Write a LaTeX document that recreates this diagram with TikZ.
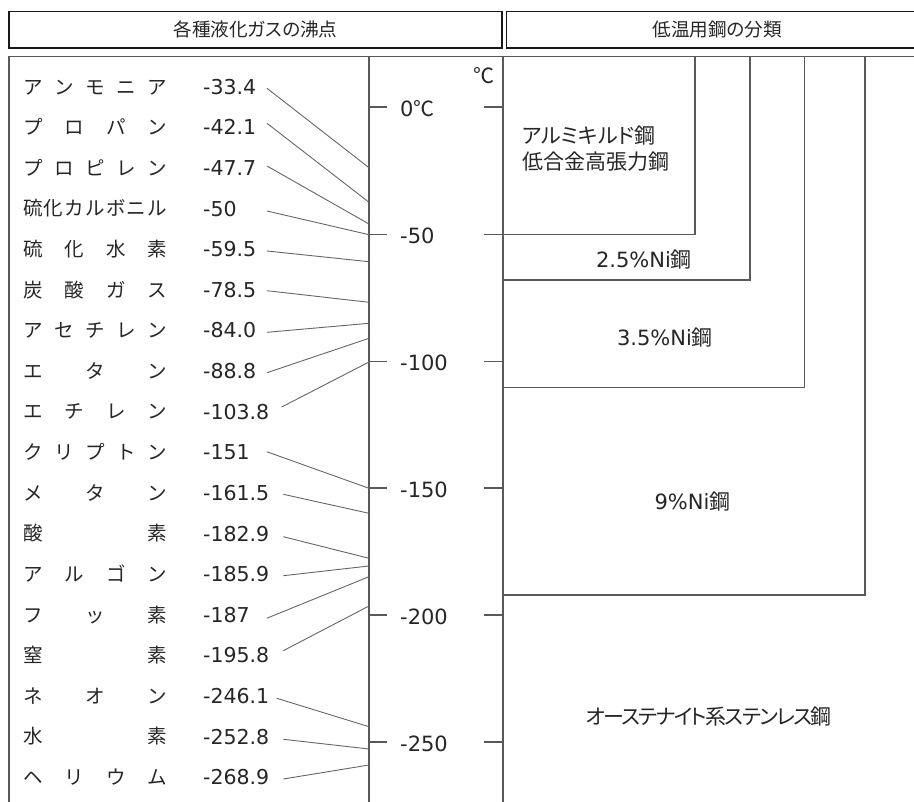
\documentclass[tikz,border=0pt]{standalone}
\usepackage{fontspec}
\newfontfamily\jp[RawFeature=+palt]{Noto Sans CJK JP}
\newfontfamily\jptight[RawFeature=+palt, LetterSpace=-8]{Noto Sans CJK JP}
\newfontfamily\jpf{Noto Sans CJK JP}
\newfontfamily\num{DejaVu Sans}
\tikzset{
  frame/.style={draw=black!65, line width=1.1pt},
  hdrbox/.style={draw=black!90, line width=1.6pt, inner sep=0pt, font=\jp\fontsize{18.6}{20}\selectfont, text=black!85},
  gasname/.style={inner sep=0pt, anchor=base west, font=\jpf\fontsize{19.5}{22}\selectfont, text=black!85},
  gasval/.style={inner sep=0pt, anchor=base west, font=\num\fontsize{20.5}{22}\selectfont, text=black!85},
  conn/.style={draw=black!60, line width=0.9pt},
  scalelbl/.style={inner sep=0pt, anchor=base west, font=\num\fontsize{21}{22}\selectfont, text=black!85},
  steellbl/.style={inner sep=0pt, font=\jp\fontsize{21}{24}\selectfont, text=black!85},
  steelbox/.style={draw=black!65, line width=1.1pt}
}
\newcommand\gasrow[6]{%
  \node[gasname] (n#1) at (23,{87+40.6*(#1-1)+7.2}) {\hbox to 144pt{#2}};
  \node[gasval] (v#1) at (203,{87+40.6*(#1-1)+7.4}) {#3};
  \coordinate (s#1) at (#4,#5);
  \coordinate (e#1) at (369,#6);
  \draw[conn] (s#1) -- (e#1);
}
\newcommand\scaletick[3]{%
  \coordinate (tl#1) at (369,#2);
  \coordinate (tm#1) at (387,#2);
  \coordinate (tr#1) at (484,#2);
  \coordinate (tq#1) at (503,#2);
  \draw[frame] (tl#1) -- (tm#1);
  \draw[frame] (tr#1) -- (tq#1);
  \node[scalelbl] (sl#1) at (400,{#2+9.2}) {#3};
}
\begin{document}
\begin{tikzpicture}[x=1pt,y=-1pt]
\useasboundingbox (0,0) rectangle (914,802);
\fill[white] (0,0) rectangle (914,802);

% headers
\node[hdrbox, minimum width=493pt, minimum height=36.5pt] (h1) at (255.5,29.75) {各種液化ガスの沸点};
\node[hdrbox, minimum width=421.5pt, minimum height=36.5pt] (h2) at (717.25,29.75) {低温用鋼の分類};

% frame
\draw[frame] (9,56.5) -- (930,56.5);
\draw[frame] (9,56.5) -- (9,810);
\draw[frame] (369,56.5) -- (369,810);
\draw[frame] (503,56.5) -- (503,810);

% steel classes
\draw[steelbox] (503,56.5) rectangle (695,234.5);
\draw[steelbox] (503,56.5) rectangle (750,280);
\draw[steelbox] (503,56.5) rectangle (804.5,387.5);
\draw[steelbox] (503,56.5) rectangle (865,595);

\node[steellbl, anchor=base west] (al1) at (522,143.5) {アルミキルド鋼};
\node[steellbl, anchor=base west] (al2) at (522,169.5) {低合金高張力鋼};
\node[steellbl] (ni25) at (644,260) {{\num 2.5\%Ni}鋼};
\node[steellbl] (ni35) at (665,338) {{\num 3.5\%Ni}鋼};
\node[steellbl] (ni9) at (692.5,502) {{\num 9\%Ni}鋼};
\node[steellbl, font=\jptight\fontsize{21}{24}\selectfont] (aus) at (708.5,717) {オーステナイト系ステンレス鋼};

% scale
\node[inner sep=0pt, font=\jpf\fontsize{21}{22}\selectfont, text=black!85] (unit) at (484,76) {℃};
\scaletick{0}{107}{0{\jpf ℃}}
\scaletick{1}{234.5}{-50}
\scaletick{2}{361.5}{-100}
\scaletick{3}{488}{-150}
\scaletick{4}{615}{-200}
\scaletick{5}{742}{-250}

% gases
\gasrow{1}{ア\hfil ン\hfil モ\hfil ニ\hfil ア}{-33.4}{267}{88.3}{167.7}
\gasrow{2}{プ\hfil ロ\hfil パ\hfil ン}{-42.1}{267}{123.3}{202.3}
\gasrow{3}{プ\hfil ロ\hfil ピ\hfil レ\hfil ン}{-47.7}{267}{166}{224}
\gasrow{4}{硫\hfil 化\hfil カ\hfil ル\hfil ボ\hfil ニ\hfil ル}{-50}{267}{211}{234.7}
\gasrow{5}{硫\hfil 化\hfil 水\hfil 素}{-59.5}{267}{251}{261.7}
\gasrow{6}{炭\hfil 酸\hfil ガ\hfil ス}{-78.5}{267}{290.7}{302.3}
\gasrow{7}{ア\hfil セ\hfil チ\hfil レ\hfil ン}{-84.0}{267}{332.3}{323.3}
\gasrow{8}{エ\hfil タ\hfil ン}{-88.8}{267}{372.7}{338.3}
\gasrow{9}{エ\hfil チ\hfil レ\hfil ン}{-103.8}{281.7}{407}{362}
\gasrow{10}{ク\hfil リ\hfil プ\hfil ト\hfil ン}{-151}{266.7}{451.7}{488.3}
\gasrow{11}{メ\hfil タ\hfil ン}{-161.5}{283.3}{494.3}{513.3}
\gasrow{12}{酸\hfil 素}{-182.9}{283.3}{536.7}{558.3}
\gasrow{13}{ア\hfil ル\hfil ゴ\hfil ン}{-185.9}{283.3}{575.7}{566}
\gasrow{14}{フ\hfil ッ\hfil 素}{-187}{266.7}{618.3}{576.7}
\gasrow{15}{窒\hfil 素}{-195.8}{283.3}{650.7}{606}
\gasrow{16}{ネ\hfil オ\hfil ン}{-246.1}{276.7}{698.3}{726.7}
\gasrow{17}{水\hfil 素}{-252.8}{283.3}{739.3}{749}
\gasrow{18}{ヘ\hfil リ\hfil ウ\hfil ム}{-268.9}{283.3}{779}{765}
\end{tikzpicture}
\end{document}
